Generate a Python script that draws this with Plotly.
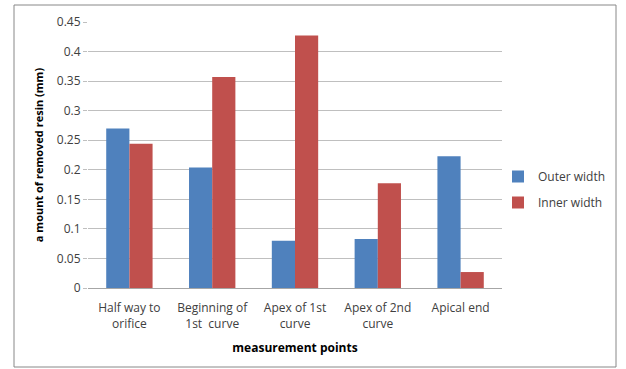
import plotly.graph_objects as go

categories = ["Half way to<br>orifice", "Beginning of<br>1st  curve", "Apex of 1st<br>curve",
              "Apex of 2nd<br>curve", "Apical end"]
outer_width = [0.270, 0.204, 0.080, 0.083, 0.223]
inner_width = [0.244, 0.357, 0.427, 0.177, 0.027]
y_ticks = [0, 0.05, 0.1, 0.15, 0.2, 0.25, 0.3, 0.35, 0.4, 0.45]
y_tick_text = ["0", "0.05", "0.1", "0.15", "0.2", "0.25", "0.3", "0.35", "0.4", "0.45"]

W, H = 626, 369
L, R, T, B = 88, 124, 22, 81
pw, ph = W - L - R, H - T - B

def px_x(px):
    return (px - L) / pw

def px_y(py):
    return (H - B - py) / ph

font_family = "Open Sans, Noto Sans, sans-serif"
text_color = "#404040"

fig = go.Figure()
fig.add_trace(go.Bar(x=categories, y=outer_width, name="Outer width", legendgroup="outer",
                     marker=dict(color="#4F81BD", line=dict(width=0))))
fig.add_trace(go.Bar(x=categories, y=inner_width, name="Inner width", legendgroup="inner",
                     marker=dict(color="#C0504D", line=dict(width=0))))

fig.update_layout(
    width=W, height=H,
    margin=dict(l=L, r=R, t=T, b=B, autoexpand=False),
    paper_bgcolor="white", plot_bgcolor="white",
    barmode="group", bargap=0.44, bargroupgap=0,
    font=dict(family=font_family, size=12, color=text_color),
    legend=dict(x=px_x(498), y=px_y(162), xanchor="left", yanchor="top",
                font=dict(size=12, color=text_color), itemwidth=30,
                tracegroupgap=7, bgcolor="rgba(0,0,0,0)"),
    xaxis=dict(showgrid=False, showline=True, linecolor="#A6A6A6", linewidth=1,
               ticks="", ticklabelstandoff=9, tickfont=dict(size=12, color=text_color),
               title=dict(text="<b>measurement points</b>", font=dict(size=12, color="#000000"),
                          standoff=12)),
    yaxis=dict(range=[0, 0.45], tickvals=y_ticks, ticktext=y_tick_text,
               showgrid=True, gridcolor="#BFBFBF", gridwidth=1,
               zeroline=False, showline=False,
               ticks="outside", ticklen=4, tickcolor="#BFBFBF",
               tickfont=dict(size=12, color=text_color),
               title=dict(text="<b>a mount of removed resin (mm)</b>",
                          font=dict(size=11, color="#000000"), standoff=10)),
    shapes=[dict(type="rect", xref="paper", yref="paper",
                 x0=px_x(14), x1=px_x(616), y0=px_y(367), y1=px_y(5),
                 line=dict(color="#888888", width=1), fillcolor="rgba(0,0,0,0)",
                 layer="below")],
)

fig.write_html("out.html")
